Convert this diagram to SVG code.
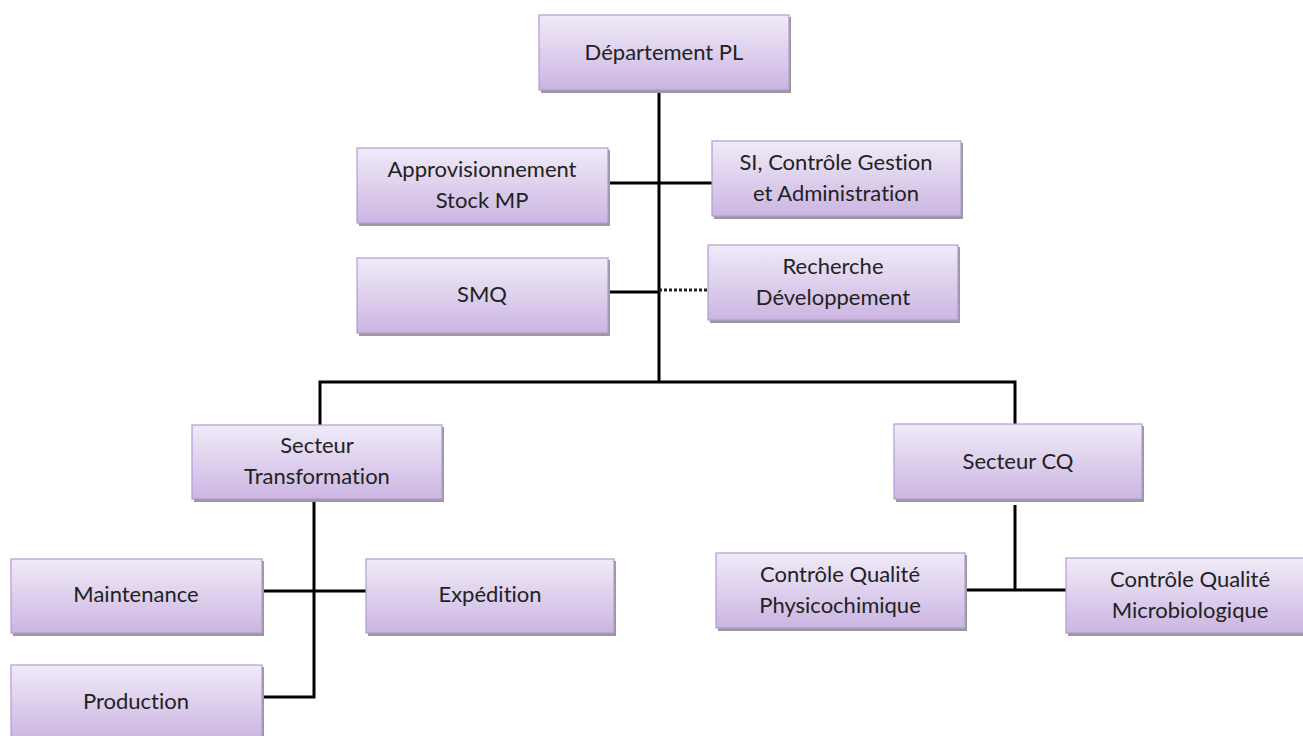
<svg xmlns="http://www.w3.org/2000/svg" width="1303" height="736" viewBox="0 0 1303 736">
  <defs>
    <linearGradient id="boxFill" x1="0" y1="0" x2="0" y2="1">
      <stop offset="0" stop-color="#f0ebf8"/>
      <stop offset="1" stop-color="#cbb5e2"/>
    </linearGradient>
  </defs>
  <style>
    .shadow { fill: #9a9a9a; }
    .box { fill: url(#boxFill); stroke: #b39ad6; stroke-width: 1.2; }
    .label { font-family: Lato, "Liberation Sans", Arial, sans-serif; font-size: 22px; fill: #222; text-anchor: middle; font-variant-ligatures: none; }
    .link { stroke: #000; stroke-width: 3; fill: none; }
    .dotted { stroke: #222; stroke-width: 3; stroke-dasharray: 3 2; fill: none; }
  </style>
  <rect width="1303" height="736" fill="#fff"/>

  <!-- connectors -->
  <g id="connectors">
    <path class="link" d="M659 91 V382"/>
    <path class="link" d="M608 183 H712"/>
    <path class="link" d="M608 292 H659"/>
    <path class="dotted" d="M659 290 H708"/>
    <path class="link" d="M320 425 V382 H1015 V424"/>
    <path class="link" d="M314 499 V697 H262"/>
    <path class="link" d="M262 591 H366"/>
    <path class="link" d="M1015 505 V590"/>
    <path class="link" d="M965 590 H1066"/>
  </g>

  <g id="dept-pl">
    <rect class="shadow" x="541" y="17" width="250" height="76"/>
    <rect class="box" x="539" y="15" width="250" height="75"/>
    <text class="label" x="664" y="60">Département PL</text>
  </g>

  <g id="approvisionnement">
    <rect class="shadow" x="359" y="150" width="251" height="76"/>
    <rect class="box" x="357" y="148" width="251" height="75"/>
    <text class="label" x="482" y="177">Approvisionnement</text>
    <text class="label" x="482" y="208">Stock MP</text>
  </g>

  <g id="si-controle">
    <rect class="shadow" x="714" y="143" width="249" height="76"/>
    <rect class="box" x="712" y="141" width="249" height="75"/>
    <text class="label" x="836" y="170">SI, Contrôle Gestion</text>
    <text class="label" x="836" y="201">et Administration</text>
  </g>

  <g id="smq">
    <rect class="shadow" x="359" y="260" width="251" height="76"/>
    <rect class="box" x="357" y="258" width="251" height="75"/>
    <text class="label" x="482" y="302">SMQ</text>
  </g>

  <g id="recherche">
    <rect class="shadow" x="710" y="247" width="250" height="76"/>
    <rect class="box" x="708" y="245" width="250" height="75"/>
    <text class="label" x="833" y="274">Recherche</text>
    <text class="label" x="833" y="305">Développement</text>
  </g>

  <g id="secteur-transformation">
    <rect class="shadow" x="194" y="427" width="250" height="75"/>
    <rect class="box" x="192" y="425" width="250" height="74"/>
    <text class="label" x="317" y="453">Secteur</text>
    <text class="label" x="317" y="484">Transformation</text>
  </g>

  <g id="secteur-cq">
    <rect class="shadow" x="896" y="426" width="248" height="76"/>
    <rect class="box" x="894" y="424" width="248" height="75"/>
    <text class="label" x="1018" y="469">Secteur CQ</text>
  </g>

  <g id="maintenance">
    <rect class="shadow" x="13" y="561" width="251" height="75"/>
    <rect class="box" x="11" y="559" width="251" height="74"/>
    <text class="label" x="136" y="602">Maintenance</text>
  </g>

  <g id="expedition">
    <rect class="shadow" x="368" y="561" width="248" height="75"/>
    <rect class="box" x="366" y="559" width="248" height="74"/>
    <text class="label" x="490" y="602">Expédition</text>
  </g>

  <g id="production">
    <rect class="shadow" x="13" y="667" width="251" height="75"/>
    <rect class="box" x="11" y="665" width="251" height="74"/>
    <text class="label" x="136" y="709">Production</text>
  </g>

  <g id="cq-physicochimique">
    <rect class="shadow" x="718" y="555" width="249" height="76"/>
    <rect class="box" x="716" y="553" width="249" height="75"/>
    <text class="label" x="840" y="582">Contrôle Qualité</text>
    <text class="label" x="840" y="613">Physicochimique</text>
  </g>

  <g id="cq-microbiologique">
    <rect class="shadow" x="1068" y="560" width="240" height="76"/>
    <rect class="box" x="1066" y="558" width="240" height="75"/>
    <text class="label" x="1190" y="587">Contrôle Qualité</text>
    <text class="label" x="1190" y="618">Microbiologique</text>
  </g>
</svg>
